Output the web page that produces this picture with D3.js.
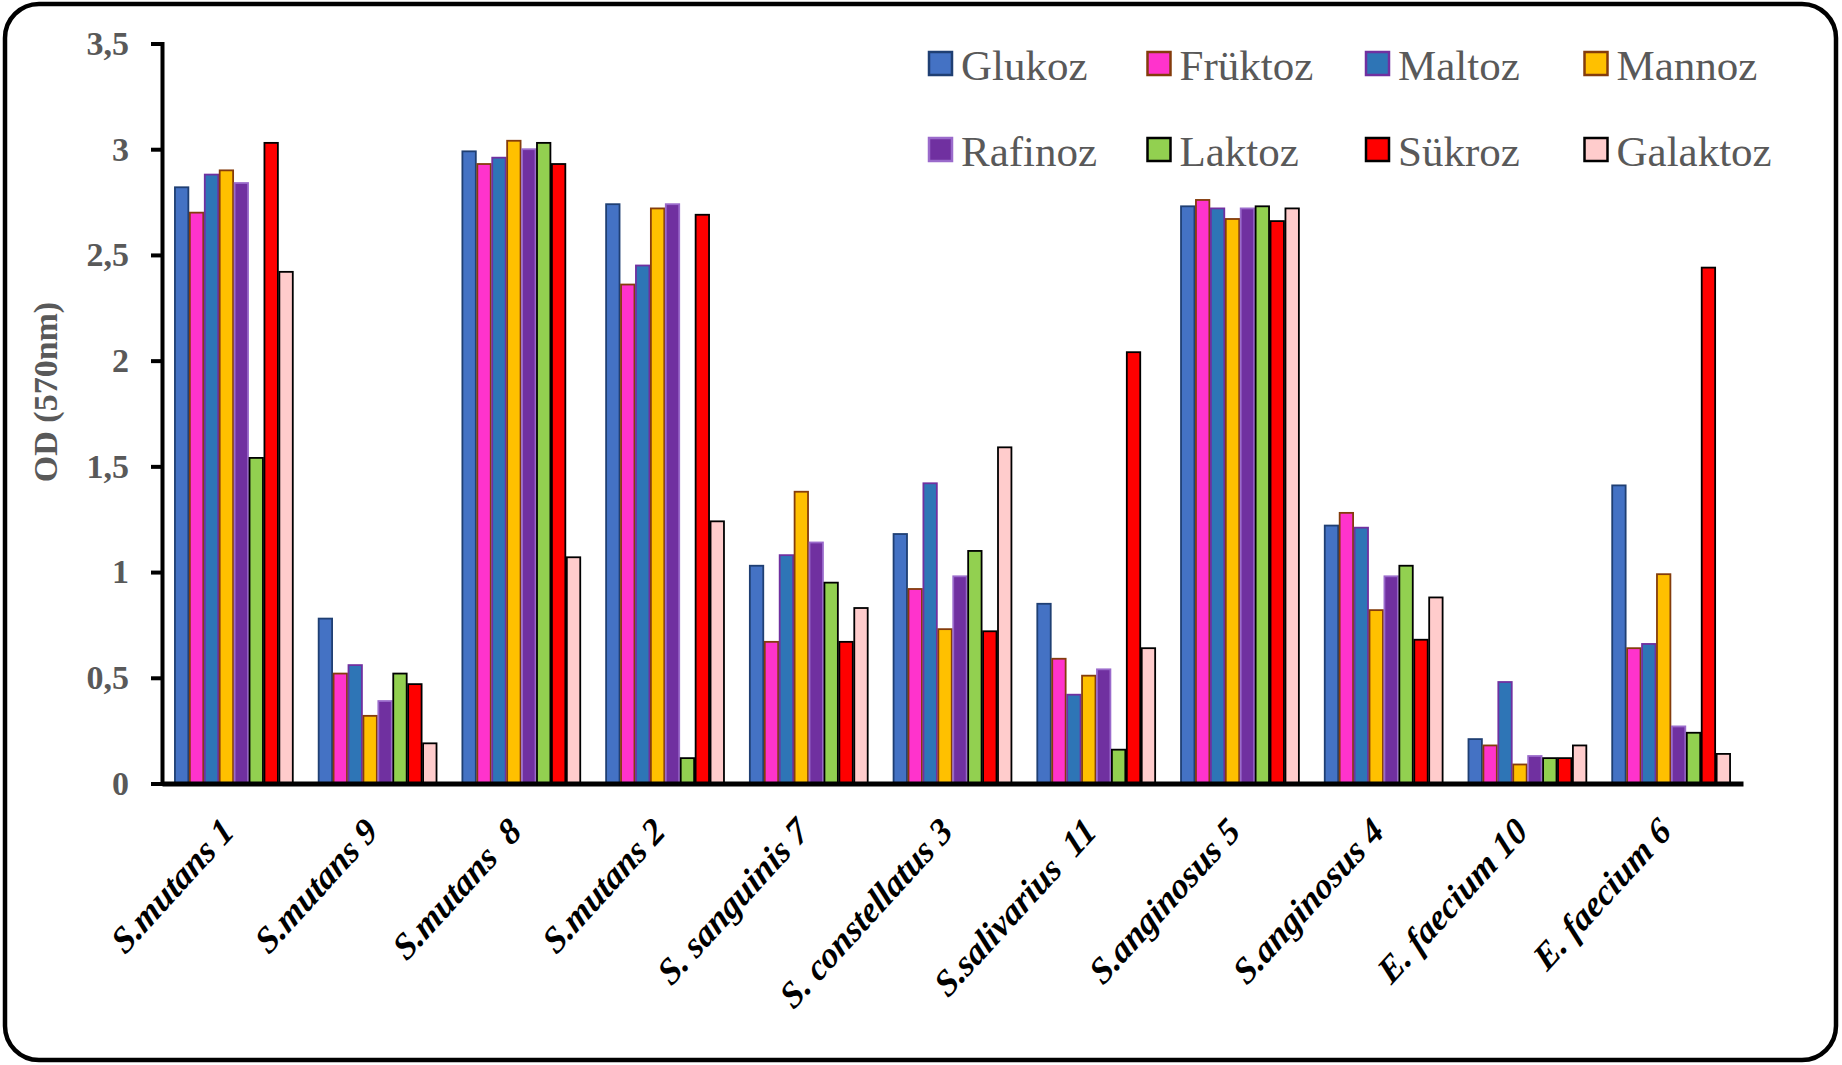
<!DOCTYPE html>
<html>
<head>
<meta charset="utf-8">
<script src="https://cdn.jsdelivr.net/npm/d3@7"></script>
<style>
  html, body { margin: 0; padding: 0; background: #fff; }
  svg { display: block; }
  text { font-family: "Liberation Serif", "Times New Roman", serif; }
</style>
</head>
<body>
<svg id="chart" width="1842" height="1065"></svg>
<script>
// Strains (x categories)
const strains = [
  "S.mutans 1", "S.mutans 9", "S.mutans  8", "S.mutans 2", "S. sanguinis 7",
  "S. constellatus 3", "S.salivarius  11", "S.anginosus 5", "S.anginosus 4",
  "E. faecium 10", "E. faecium 6"
];

// Sugars (series)
const sugars = ["Glukoz", "Früktoz", "Maltoz", "Mannoz", "Rafinoz", "Laktoz", "Sükroz", "Galaktoz"];

// OD (570nm) per sugar, one value per strain
const glukoz   = [2.82, 0.78, 2.99, 2.74, 1.03, 1.18, 0.85, 2.73, 1.22, 0.21, 1.41];
const fruktoz  = [2.70, 0.52, 2.93, 2.36, 0.67, 0.92, 0.59, 2.76, 1.28, 0.18, 0.64];
const maltoz   = [2.88, 0.56, 2.96, 2.45, 1.08, 1.42, 0.42, 2.72, 1.21, 0.48, 0.66];
const mannoz   = [2.90, 0.32, 3.04, 2.72, 1.38, 0.73, 0.51, 2.67, 0.82, 0.09, 0.99];
const rafinoz  = [2.84, 0.39, 3.00, 2.74, 1.14, 0.98, 0.54, 2.72, 0.98, 0.13, 0.27];
const laktoz   = [1.54, 0.52, 3.03, 0.12, 0.95, 1.10, 0.16, 2.73, 1.03, 0.12, 0.24];
const sukroz   = [3.03, 0.47, 2.93, 2.69, 0.67, 0.72, 2.04, 2.66, 0.68, 0.12, 2.44];
const galaktoz = [2.42, 0.19, 1.07, 1.24, 0.83, 1.59, 0.64, 2.72, 0.88, 0.18, 0.14];

const seriesValues = [glukoz, fruktoz, maltoz, mannoz, rafinoz, laktoz, sukroz, galaktoz];

// Y axis ticks
const yTicks = [0, 0.5, 1, 1.5, 2, 2.5, 3, 3.5];
const yTickLabels = ["0", "0,5", "1", "1,5", "2", "2,5", "3", "3,5"];

// Fill and outline colour per sugar
const fills   = ["#4472C4", "#FF33CC", "#2E75B6", "#FFC000", "#7030A0", "#92D050", "#FF0000", "#FFCCCC"];
const strokes = ["#1F3F73", "#843C0C", "#7030A0", "#843C0C", "#9A6ACB", "#000000", "#000000", "#000000"];

const svg = d3.select("#chart");

// Rounded outer frame
svg.append("rect")
  .attr("x", 5).attr("y", 4)
  .attr("width", 1831).attr("height", 1056)
  .attr("rx", 34).attr("ry", 34)
  .attr("fill", "#fff")
  .attr("stroke", "#000")
  .attr("stroke-width", 4.5);

const plot = { left: 162, right: 1743, top: 43.5, bottom: 783.5 };

const x0 = d3.scaleBand()
  .domain(strains)
  .range([plot.left, plot.right])
  .paddingInner(0.18)
  .paddingOuter(0.09);

const x1 = d3.scaleBand()
  .domain(sugars)
  .range([0, x0.bandwidth()])
  .paddingInner(0.1);

const y = d3.scaleLinear()
  .domain([0, 3.5])
  .range([plot.bottom, plot.top]);

// Bars
const rows = strains.map((s, i) => ({
  strain: s,
  vals: sugars.map((g, j) => ({ sugar: g, j, value: seriesValues[j][i] }))
}));

const groups = svg.append("g").selectAll("g")
  .data(rows)
  .join("g")
  .attr("transform", d => `translate(${x0(d.strain)},0)`);

groups.selectAll("rect")
  .data(d => d.vals)
  .join("rect")
  .attr("x", d => x1(d.sugar))
  .attr("y", d => y(d.value))
  .attr("width", x1.bandwidth())
  .attr("height", d => y(0) - y(d.value))
  .attr("fill", d => fills[d.j])
  .attr("stroke", d => strokes[d.j])
  .attr("stroke-width", 1.8);

// Y axis
const yAxis = d3.axisLeft(y)
  .tickValues(yTicks)
  .tickFormat((d, i) => yTickLabels[i])
  .tickSize(11)
  .tickPadding(22);

const gy = svg.append("g")
  .attr("transform", `translate(${plot.left},0)`)
  .call(yAxis);
gy.select(".domain").attr("stroke", "#000").attr("stroke-width", 4);
gy.selectAll(".tick line").attr("stroke", "#000").attr("stroke-width", 4);
gy.selectAll(".tick text")
  .attr("fill", "#595959")
  .style("font-family", "'Liberation Serif', 'Times New Roman', serif")
  .style("font-size", "34px")
  .style("font-weight", "bold");

// X axis baseline and rotated strain labels
const xAxis = d3.axisBottom(x0).tickSize(0).tickPadding(0);
const gx = svg.append("g")
  .attr("transform", `translate(0,${plot.bottom})`)
  .call(xAxis);
gx.select(".domain").attr("stroke", "#000").attr("stroke-width", 5);
gx.selectAll(".tick text")
  .attr("fill", "#000")
  .attr("text-anchor", "end")
  .attr("x", 0).attr("y", 0).attr("dy", 0)
  .attr("transform", "translate(2,50) scale(1,1.1) rotate(-45)")
  .style("font-family", "'Liberation Serif', 'Times New Roman', serif")
  .style("font-size", "34px")
  .style("font-weight", "bold")
  .style("font-style", "italic")
  .style("white-space", "pre");

// Y axis title
svg.append("text")
  .attr("transform", `translate(57,392) rotate(-90)`)
  .attr("text-anchor", "middle")
  .attr("fill", "#595959")
  .style("font-size", "34px")
  .style("font-weight", "bold")
  .text("OD (570nm)");

// Legend: 4 columns x 2 rows
const legend = svg.append("g");
const leg = legend.selectAll("g")
  .data(sugars)
  .join("g")
  .attr("transform", (d, i) => `translate(${929 + (i % 4) * 218.5},${52 + Math.floor(i / 4) * 86})`);
leg.append("rect")
  .attr("width", 23).attr("height", 23)
  .attr("fill", (d, i) => fills[i])
  .attr("stroke", (d, i) => strokes[i])
  .attr("stroke-width", 2.5);
leg.append("text")
  .attr("x", 32).attr("y", 28)
  .attr("fill", "#595959")
  .style("font-size", "43px")
  .text(d => d);
</script>
</body>
</html>
